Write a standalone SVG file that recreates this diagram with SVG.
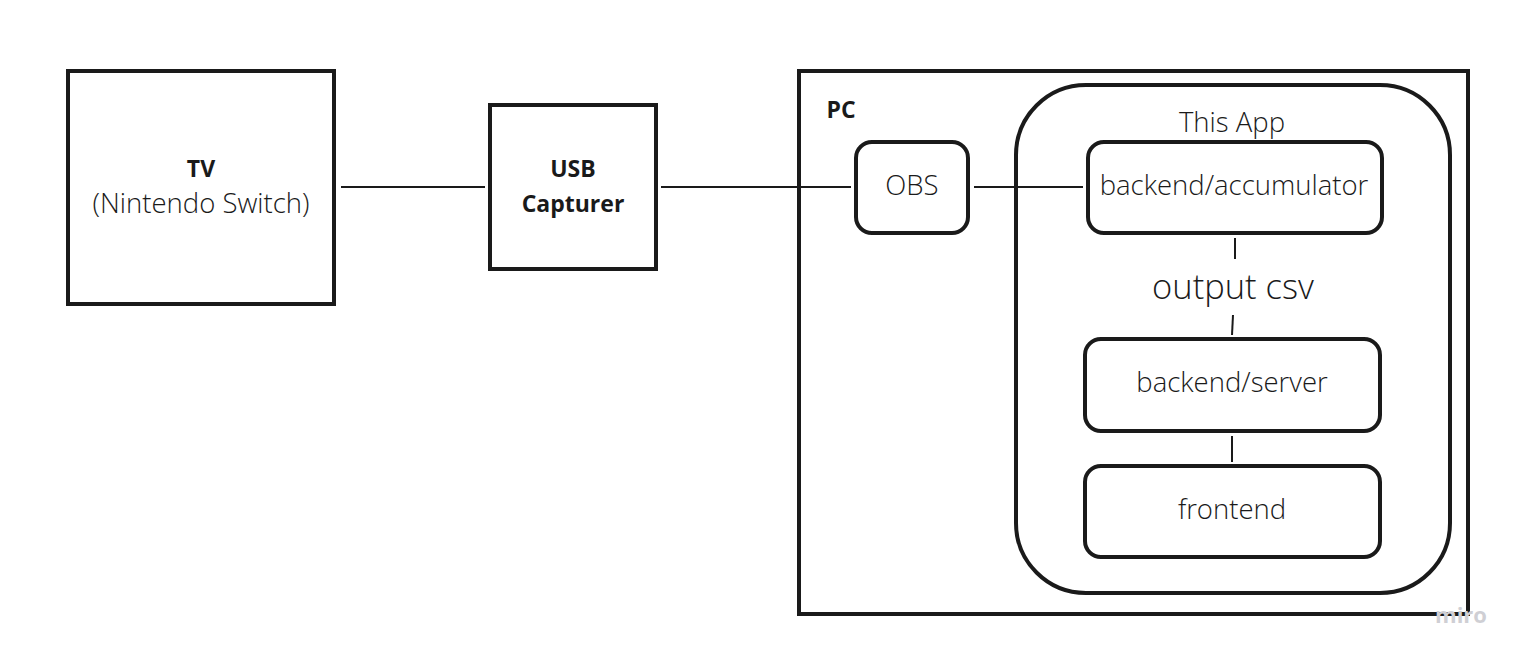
<svg xmlns="http://www.w3.org/2000/svg" width="1520" height="657" viewBox="0 0 1520 657">
<style>
.box{fill:none;stroke:#1a1a1a;stroke-width:4}
.ln{stroke:#1a1a1a;stroke-width:2;fill:none}
text{font-family:"Open Sans","Noto Sans",sans-serif;fill:#1a1a1a;text-anchor:middle}
.b{font-weight:bold;font-size:23px}
.t{font-size:27.5px;font-weight:300}
</style>
<rect width="1520" height="657" fill="#fff"/>
<g id="pc">
<rect class="box" x="799" y="71" width="669" height="543"/>
<text class="b" x="841" y="118">PC</text>
</g>
<g id="app">
<rect class="box" x="1016" y="85" width="434" height="508" rx="70"/>
<text class="t" x="1232" y="132">This App</text>
</g>
<g id="connectors">
<line class="ln" x1="341" y1="187" x2="485" y2="187"/>
<line class="ln" x1="661" y1="187" x2="851" y2="187"/>
<line class="ln" x1="974" y1="187" x2="1083" y2="187"/>
<line class="ln" x1="1235" y1="238" x2="1235" y2="259"/>
<line class="ln" x1="1233" y1="315" x2="1232" y2="335"/>
<line class="ln" x1="1232" y1="436" x2="1232" y2="462"/>
<text x="1233" y="299" style="font-size:34.5px;font-weight:300">output csv</text>
</g>
<g id="tv">
<rect class="box" x="68" y="71" width="266" height="233"/>
<text class="b" x="201" y="177">TV</text>
<text class="t" x="201" y="213">(Nintendo Switch)</text>
</g>
<g id="usb">
<rect class="box" x="490" y="105" width="166" height="164"/>
<text class="b" x="573" y="177">USB</text>
<text class="b" x="573" y="212">Capturer</text>
</g>
<g id="obs">
<rect class="box" x="856" y="142" width="112" height="91" rx="16"/>
<text class="t" x="912" y="195">OBS</text>
</g>
<g id="accumulator">
<rect class="box" x="1088" y="142" width="294" height="91" rx="16"/>
<text class="t" x="1234" y="195">backend/accumulator</text>
</g>
<g id="server">
<rect class="box" x="1085" y="339" width="295" height="92" rx="16"/>
<text class="t" x="1232" y="392">backend/server</text>
</g>
<g id="frontend">
<rect class="box" x="1085" y="466" width="295" height="91" rx="16"/>
<text class="t" x="1232" y="519">frontend</text>
</g>
<text x="1461" y="623" style="font-size:22px;font-weight:bold;fill:#cfcfd4">miro</text>
</svg>
